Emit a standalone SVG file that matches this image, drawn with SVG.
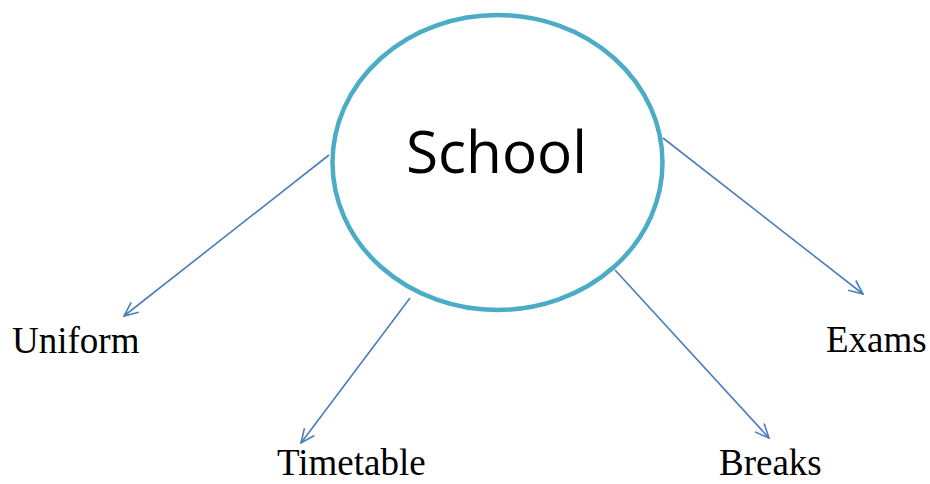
<svg xmlns="http://www.w3.org/2000/svg" width="930" height="484" viewBox="0 0 930 484">
<defs>
<style>
.conn{fill:none;stroke:#4A7EBB;stroke-width:1.6;marker-end:url(#arr)}
.lbl{font-family:"Liberation Serif","Times New Roman",serif;font-size:37px;fill:#000}
</style>
<marker id="arr" viewBox="0 0 16 14" refX="15" refY="7" markerWidth="16" markerHeight="14" markerUnits="userSpaceOnUse" orient="auto">
<polyline points="1,0.8 15,7 1,13.2" fill="none" stroke="#4A7EBB" stroke-width="1.6"/>
</marker>
</defs>
<rect width="930" height="484" fill="#fff"/>
<g id="connectors">
<line class="conn" x1="329" y1="155" x2="124" y2="316"/>
<line class="conn" x1="410" y1="298" x2="301" y2="443"/>
<line class="conn" x1="615" y1="270" x2="769" y2="438"/>
<line class="conn" x1="663" y1="138" x2="863" y2="294"/>
</g>
<g id="school">
<ellipse cx="497.5" cy="162.5" rx="165" ry="147.5" fill="#fff" stroke="#4BACC6" stroke-width="4.5"/>
<text x="406" y="173" font-family="'Open Sans','Noto Sans',sans-serif" font-size="59" textLength="181" lengthAdjust="spacingAndGlyphs">School</text>
</g>
<g id="uniform"><text class="lbl" x="12" y="353">Uniform</text></g>
<g id="timetable"><text class="lbl" x="277" y="475">Timetable</text></g>
<g id="breaks"><text class="lbl" x="719" y="475">Breaks</text></g>
<g id="exams"><text class="lbl" x="826" y="352">Exams</text></g>
</svg>
